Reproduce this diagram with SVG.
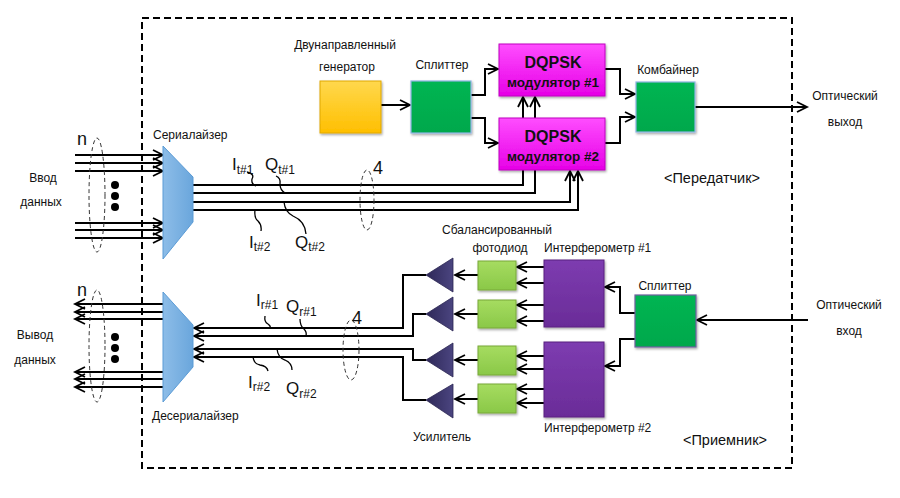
<svg xmlns="http://www.w3.org/2000/svg" width="900" height="498" viewBox="0 0 900 498">
<style>
text{font-family:"Liberation Sans",Arial,sans-serif;fill:#111;}
.lb{font-size:12px;}
.ctr{text-anchor:middle;}
.big{font-size:18px;}
.iq{font-size:17px;}
.sub{font-size:12px;}
.mod{font-size:16px;font-weight:bold;text-anchor:middle;}
.mods{font-size:13.5px;font-weight:bold;text-anchor:middle;}
.ln{fill:none;stroke:#000;stroke-width:2;}
.ar{fill:none;stroke:#000;stroke-width:2;marker-end:url(#arr);}
.thin{fill:none;stroke:#000;stroke-width:1.3;}
.dsh{fill:none;stroke:#333;stroke-width:1;stroke-dasharray:4 3;}
</style>
<defs>
<marker id="arr" markerUnits="userSpaceOnUse" markerWidth="14" markerHeight="14" refX="11" refY="6" orient="auto">
<path d="M1,1 L11,6 L1,11" fill="none" stroke="#000" stroke-width="1.8"/>
</marker>
<linearGradient id="gMag" x1="0" y1="0" x2="0" y2="1"><stop offset="0" stop-color="#ff4dff"/><stop offset="1" stop-color="#e600e6"/></linearGradient>
<linearGradient id="gYel" x1="0" y1="0" x2="0" y2="1"><stop offset="0" stop-color="#ffd84d"/><stop offset="1" stop-color="#ffbf00"/></linearGradient>
<linearGradient id="gGrn" x1="0" y1="0" x2="0" y2="1"><stop offset="0" stop-color="#00b552"/><stop offset="1" stop-color="#00a84c"/></linearGradient>
<linearGradient id="gLg" x1="0" y1="0" x2="0" y2="1"><stop offset="0" stop-color="#a6dc60"/><stop offset="1" stop-color="#8ac848"/></linearGradient>
<linearGradient id="gPur" x1="0" y1="0" x2="0" y2="1"><stop offset="0" stop-color="#7d3cb0"/><stop offset="1" stop-color="#6a2c98"/></linearGradient>
<linearGradient id="gAmp" x1="0" y1="0" x2="1" y2="0"><stop offset="0" stop-color="#2e2858"/><stop offset="1" stop-color="#4b4580"/></linearGradient>
<linearGradient id="gBlu" x1="0" y1="0" x2="1" y2="0"><stop offset="0" stop-color="#8dbde8"/><stop offset="1" stop-color="#6aa6dc"/></linearGradient>
<filter id="sh" x="-10%" y="-10%" width="130%" height="130%"><feDropShadow dx="1" dy="1.5" stdDeviation="1" flood-opacity="0.35"/></filter>
</defs>
<rect width="900" height="498" fill="#fff"/>
<rect x="142" y="18" width="650" height="450" fill="none" stroke="#000" stroke-width="2" stroke-dasharray="7 4"/>

<g id="connectors">
<line class="ar" x1="75" y1="155" x2="163" y2="155"/>
<line class="ar" x1="75" y1="163" x2="163" y2="163"/>
<line class="ar" x1="75" y1="171" x2="163" y2="171"/>
<line class="ar" x1="75" y1="223" x2="163" y2="223"/>
<line class="ar" x1="75" y1="230" x2="163" y2="230"/>
<line class="ar" x1="75" y1="238" x2="163" y2="238"/>
<polyline class="ln" points="193,185 523,185 523,170"/>
<polyline class="ln" points="193,193 535,193 535,170"/>
<polyline class="ar" points="193,202 570,202 570,171"/>
<polyline class="ar" points="193,210 578,210 578,171"/>
<line class="ar" x1="523" y1="118" x2="523" y2="97"/>
<line class="ar" x1="535" y1="118" x2="535" y2="97"/>
<line class="ar" x1="381" y1="105" x2="410" y2="105"/>
<polyline class="ar" points="471,95 485,95 485,69 498,69"/>
<polyline class="ar" points="471,118 485,118 485,143 498,143"/>
<polyline class="ar" points="605,69 620,69 620,94 635,94"/>
<polyline class="ar" points="605,143 620,143 620,117 635,117"/>
<line class="ar" x1="695" y1="107" x2="807" y2="107"/>
<line class="ar" x1="163" y1="304" x2="75" y2="304"/>
<line class="ar" x1="163" y1="312" x2="75" y2="312"/>
<line class="ar" x1="163" y1="319" x2="75" y2="319"/>
<line class="ar" x1="163" y1="372" x2="75" y2="372"/>
<line class="ar" x1="163" y1="379" x2="75" y2="379"/>
<line class="ar" x1="163" y1="387" x2="75" y2="387"/>
<polyline class="ar" points="426,275 403,275 403,328 194,328"/>
<polyline class="ar" points="426,314 413,314 413,336 194,336"/>
<polyline class="ar" points="426,360 413,360 413,349 194,349"/>
<polyline class="ar" points="426,400 403,400 403,357 194,357"/>
<line class="ar" x1="478" y1="275" x2="455" y2="275"/>
<line class="ar" x1="478" y1="314" x2="455" y2="314"/>
<line class="ar" x1="478" y1="360" x2="455" y2="360"/>
<line class="ar" x1="478" y1="399" x2="455" y2="399"/>
<line class="ar" x1="544" y1="267" x2="517" y2="267"/>
<line class="ar" x1="544" y1="283" x2="517" y2="283"/>
<line class="ar" x1="544" y1="305" x2="517" y2="305"/>
<line class="ar" x1="544" y1="321" x2="517" y2="321"/>
<line class="ar" x1="544" y1="356" x2="517" y2="356"/>
<line class="ar" x1="544" y1="369" x2="517" y2="369"/>
<line class="ar" x1="544" y1="389" x2="517" y2="389"/>
<line class="ar" x1="544" y1="403" x2="517" y2="403"/>
<polyline class="ar" points="635,313 620,313 620,287 605,287"/>
<polyline class="ar" points="635,339 620,339 620,366 605,366"/>
<line class="ar" x1="808" y1="320" x2="697" y2="320"/>
<path class="thin" d="M247,172 Q255,174 252,179 Q251,184 256,186"/>
<path class="thin" d="M276,176 Q281,178 280,184 Q280,190 285,193"/>
<path class="thin" d="M255,210 Q254,218 258,221 Q262,225 261,231"/>
<path class="thin" d="M284,202 Q285,212 293,216 Q305,221 306,234"/>
<path class="thin" d="M265,316 Q264,322 268,324 Q271,326 270,328"/>
<path class="thin" d="M300,319 Q300,326 304,329 Q307,332 306,336"/>
<path class="thin" d="M253,357 Q254,364 260,365 Q267,366 268,371"/>
<path class="thin" d="M277,349 Q278,358 285,360 Q292,363 292,370"/>
<ellipse class="dsh" cx="97" cy="195" rx="8" ry="57"/>
<ellipse class="dsh" cx="97" cy="346" rx="8" ry="56"/>
<ellipse class="dsh" cx="367" cy="200" rx="7" ry="30"/>
<ellipse class="dsh" cx="351" cy="350" rx="8" ry="30"/>
</g>

<g id="serializer"><polygon points="163,146 193,177 193,222 163,259" fill="url(#gBlu)" stroke="#5b9bd5" stroke-width="1"/><text class="lb" x="153" y="139">Сериалайзер</text></g>
<g id="deserializer"><polygon points="163,292 193,325 193,367 163,402" fill="url(#gBlu)" stroke="#5b9bd5" stroke-width="1"/><text class="lb" x="152" y="420">Десериалайзер</text></g>

<g id="generator"><rect x="320" y="81" width="61" height="52" fill="url(#gYel)" stroke="#e0a800" filter="url(#sh)"/><text class="lb ctr" x="345" y="49" font-size="12.5">Двунаправленный</text><text class="lb ctr" x="347" y="71">генератор</text></g>
<g id="splitter-tx"><rect x="411" y="81" width="60" height="52" fill="url(#gGrn)" stroke="#8fb4e3" stroke-width="1.2" filter="url(#sh)"/><text class="lb ctr" x="442" y="69">Сплиттер</text></g>
<g id="mod1"><rect x="499" y="44" width="106" height="52" fill="url(#gMag)" stroke="#c000c0" filter="url(#sh)"/><text class="mod" x="553" y="68">DQPSK</text><text class="mods" x="553" y="87">модулятор #1</text></g>
<g id="mod2"><rect x="499" y="118" width="106" height="52" fill="url(#gMag)" stroke="#c000c0" filter="url(#sh)"/><text class="mod" x="553" y="142">DQPSK</text><text class="mods" x="553" y="161">модулятор #2</text></g>
<g id="combiner"><rect x="636" y="82" width="59" height="50" fill="url(#gGrn)" stroke="#8fb4e3" stroke-width="1.2" filter="url(#sh)"/><text class="lb ctr" x="668" y="74">Комбайнер</text></g>

<g id="amp1"><polygon points="426,275 453,258 453,292" fill="url(#gAmp)" stroke="#2a2450" stroke-width="0.8"/></g>
<g id="amp2"><polygon points="426,314 453,297 453,331" fill="url(#gAmp)" stroke="#2a2450" stroke-width="0.8"/></g>
<g id="amp3"><polygon points="426,360 453,343 453,377" fill="url(#gAmp)" stroke="#2a2450" stroke-width="0.8"/></g>
<g id="amp4"><polygon points="426,400 453,384 453,418" fill="url(#gAmp)" stroke="#2a2450" stroke-width="0.8"/></g>

<g id="pd1"><rect x="478" y="261" width="38" height="29" fill="url(#gLg)" stroke="#78a83a" filter="url(#sh)"/></g>
<g id="pd2"><rect x="478" y="300" width="38" height="28" fill="url(#gLg)" stroke="#78a83a" filter="url(#sh)"/></g>
<g id="pd3"><rect x="478" y="346" width="38" height="29" fill="url(#gLg)" stroke="#78a83a" filter="url(#sh)"/></g>
<g id="pd4"><rect x="478" y="384" width="38" height="29" fill="url(#gLg)" stroke="#78a83a" filter="url(#sh)"/></g>

<g id="intf1"><rect x="544" y="260" width="60" height="67" fill="url(#gPur)" stroke="#5a2080" filter="url(#sh)"/><text class="lb" x="544" y="252">Интерферометр #1</text></g>
<g id="intf2"><rect x="544" y="342" width="60" height="75" fill="url(#gPur)" stroke="#5a2080" filter="url(#sh)"/><text class="lb" x="544" y="432">Интерферометр #2</text></g>
<g id="splitter-rx"><rect x="635" y="295" width="61" height="52" fill="url(#gGrn)" stroke="#7060a0" stroke-width="1.2" filter="url(#sh)"/><text class="lb ctr" x="665" y="290">Сплиттер</text></g>

<g id="labels">
<text class="big" x="77" y="145">n</text>
<text class="big" x="77" y="296">n</text>
<circle cx="115" cy="185" r="4"/><circle cx="115" cy="196" r="4"/><circle cx="115" cy="207" r="4"/>
<circle cx="115" cy="337" r="4"/><circle cx="115" cy="348" r="4"/><circle cx="115" cy="359" r="4"/>
<text class="lb ctr" x="43" y="182">Ввод</text>
<text class="lb ctr" x="41" y="206">данных</text>
<text class="lb ctr" x="35" y="339">Вывод</text>
<text class="lb ctr" x="35" y="364">данных</text>
<text class="big" x="373" y="174">4</text>
<text class="big" x="352" y="324">4</text>
<text class="iq" x="232" y="170">I<tspan class="sub" dy="4">t#1</tspan></text>
<text class="iq" x="265" y="170">Q<tspan class="sub" dy="4">t#1</tspan></text>
<text class="iq" x="249" y="248">I<tspan class="sub" dy="3">t#2</tspan></text>
<text class="iq" x="295" y="248">Q<tspan class="sub" dy="3">t#2</tspan></text>
<text class="iq" x="256" y="306">I<tspan class="sub" dy="3">r#1</tspan></text>
<text class="iq" x="286" y="312">Q<tspan class="sub" dy="4">r#1</tspan></text>
<text class="iq" x="248" y="388">I<tspan class="sub" dy="3">r#2</tspan></text>
<text class="iq" x="286" y="394">Q<tspan class="sub" dy="4">r#2</tspan></text>
<text class="lb ctr" x="845" y="100">Оптический</text>
<text class="lb ctr" x="845" y="126">выход</text>
<text class="lb ctr" x="849" y="309">Оптический</text>
<text class="lb ctr" x="849" y="335">вход</text>
<text class="ctr" x="712" y="183" font-size="14.5">&lt;Передатчик&gt;</text>
<text class="ctr" x="725" y="445" font-size="14.5">&lt;Приемник&gt;</text>
<text class="lb ctr" x="497" y="234">Сбалансированный</text>
<text class="lb ctr" x="500" y="252">фотодиод</text>
<text class="lb ctr" x="442" y="441">Усилитель</text>
</g>
</svg>
